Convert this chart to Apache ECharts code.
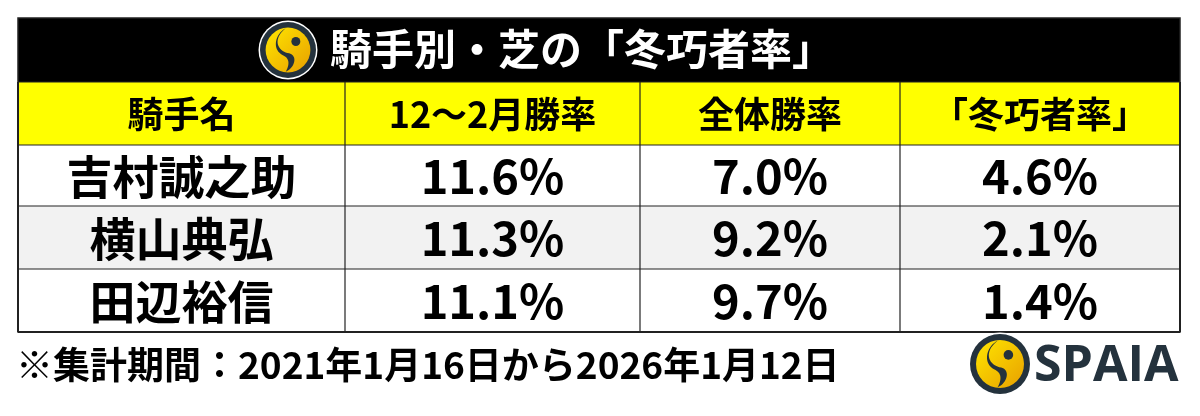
<!DOCTYPE html>
<html><head><meta charset="utf-8">
<script src="https://cdn.jsdelivr.net/npm/echarts@6/dist/echarts.min.js"></script>
<style>html,body{margin:0;padding:0;background:#fff}#c{width:1200px;height:416px}</style>
</head><body><div id="c"></div>
<script>
var title = '騎手別・芝の「冬巧者率」';
var headers = ['騎手名', '12～2月勝率', '全体勝率', '「冬巧者率」'];
var jockeys = ['吉村誠之助', '横山典弘', '田辺裕信'];
var winterRate = ['11.6%', '11.3%', '11.1%'];
var overallRate = ['7.0%', '9.2%', '9.7%'];
var winterScore = ['4.6%', '2.1%', '1.4%'];
var note = '※集計期間：2021年1月16日から2026年1月12日';

var chart = echarts.init(document.getElementById('c'));
var font = '"Noto Sans CJK JP", sans-serif';
var colX = [18, 345, 640, 900, 1180];
var rowY = [82, 145, 206, 269, 332];
var els = [];

// title band
els.push({ type: 'rect', shape: { x: 18, y: 18, width: 1162, height: 64 }, style: { fill: '#000' } });
els.push({ type: 'text', x: 330, y: 49, style: { text: title, fill: '#fff', font: 'bold 42px ' + font, textVerticalAlign: 'middle' } });

// cubic bezier segments -> polygon points (logo swirl)
function bez(p0, p1, p2, p3, out) {
  for (var t = 0; t <= 1.0001; t += 0.05) {
    var u = 1 - t;
    out.push([u*u*u*p0[0] + 3*u*u*t*p1[0] + 3*u*t*t*p2[0] + t*t*t*p3[0],
              u*u*u*p0[1] + 3*u*u*t*p1[1] + 3*u*t*t*p2[1] + t*t*t*p3[1]]);
  }
}
function logo(cx, cy, r) {
  els.push({ type: 'circle', shape: { cx: cx, cy: cy, r: r + 1.5 }, style: { fill: '#fff' } });
  els.push({ type: 'circle', shape: { cx: cx, cy: cy, r: r }, style: { fill: '#24323d' } });
  els.push({ type: 'circle', shape: { cx: cx, cy: cy, r: r * 0.8 }, style: {
    fill: new echarts.graphic.LinearGradient(0, 0, 1, 1, [{ offset: 0, color: '#ffe600' }, { offset: 1, color: '#e8a000' }]) } });
  var s = r * 0.8;
  function P(a, b) { return [cx + a * s, cy + b * s]; }
  var pts = [];
  bez(P(-0.1, -0.97), P(-0.7, -0.5), P(-0.5, 0.05), P(0.05, 0.15), pts);
  bez(P(0.05, 0.15), P(0.45, 0.25), P(0.3, 0.8), P(-0.1, 0.97), pts);
  bez(P(-0.1, 0.97), P(0.1, 0.6), P(0.05, 0.35), P(-0.25, 0.22), pts);
  bez(P(-0.25, 0.22), P(-0.75, -0.05), P(-0.55, -0.75), P(-0.1, -0.97), pts);
  els.push({ type: 'polygon', shape: { points: pts }, style: { fill: '#24323d' } });
  els.push({ type: 'circle', shape: { cx: cx + 0.35 * s, cy: cy - 0.38 * s, r: 0.2 * s }, style: { fill: '#24323d' } });
}
logo(288, 50, 28);

// header and body rows
var rows = [headers].concat(jockeys.map(function (j, i) { return [j, winterRate[i], overallRate[i], winterScore[i]]; }));
rows.forEach(function (row, r) {
  var fill = r === 0 ? '#ffff00' : (r === 2 ? '#f2f2f2' : '#fff');
  els.push({ type: 'rect', shape: { x: 18, y: rowY[r], width: 1162, height: rowY[r + 1] - rowY[r] }, style: { fill: fill } });
  row.forEach(function (t, c) {
    var size = r === 0 ? 36 : (c === 0 ? 46 : 47);
    els.push({ type: 'text', x: (colX[c] + colX[c + 1]) / 2, y: (rowY[r] + rowY[r + 1]) / 2 + 1,
      style: { text: t, fill: '#000', font: 'bold ' + size + 'px ' + font, textAlign: 'center', textVerticalAlign: 'middle' } });
  });
});
// grid lines
rowY.forEach(function (y, i) {
  els.push({ type: 'line', shape: { x1: 18, y1: y, x2: 1180, y2: y }, style: { stroke: '#222', lineWidth: i === 4 ? 2 : 1.2 } });
});
colX.forEach(function (x, i) {
  els.push({ type: 'line', shape: { x1: x, y1: 82, x2: x, y2: 332 }, style: { stroke: '#222', lineWidth: (i === 0 || i === 4) ? 2 : 1.2 } });
});
els.push({ type: 'rect', shape: { x: 18, y: 18, width: 1162, height: 314 }, style: { fill: 'none', stroke: '#222', lineWidth: 1.5 } });

// footnote and brand
els.push({ type: 'text', x: 16, y: 365, style: { text: note, fill: '#000', font: 'bold 37px ' + font, textVerticalAlign: 'middle' } });
logo(1000, 364, 30);
els.push({ type: 'text', x: 1034, y: 367, style: { text: 'SPAIA', fill: '#24323d', font: 'bold 50px "Open Sans", sans-serif', textVerticalAlign: 'middle' } });

chart.setOption({ animation: false, graphic: { elements: els } });
</script></body></html>
